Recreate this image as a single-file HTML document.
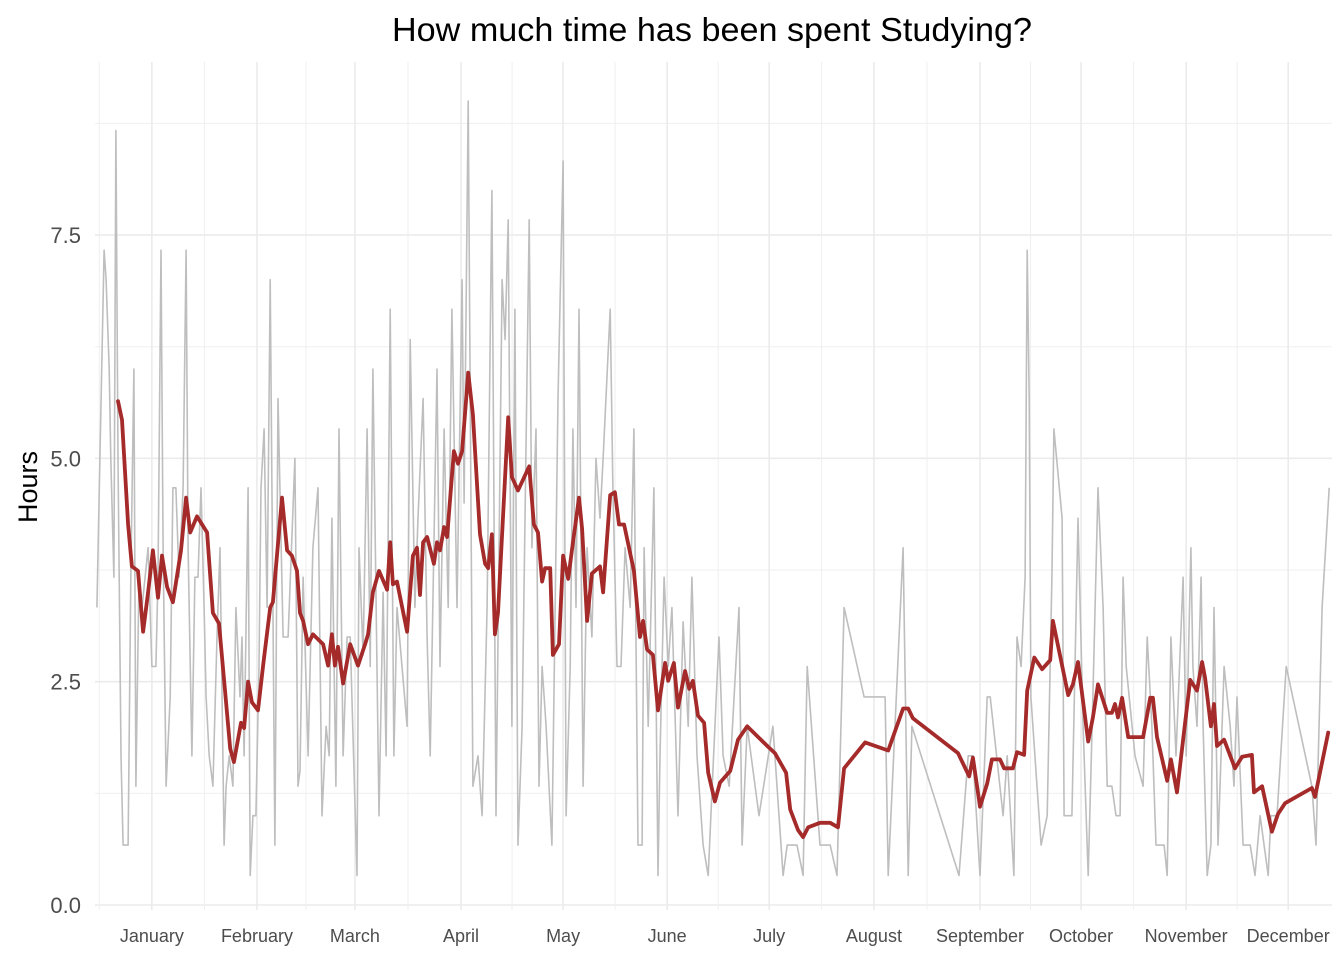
<!DOCTYPE html>
<html><head><meta charset="utf-8"><style>
html,body{margin:0;padding:0;background:#fff;}
svg{display:block;font-family:"Liberation Sans",Arial,sans-serif;}
</style></head><body>
<svg id="chart" width="1344" height="960" viewBox="0 0 1344 960" xmlns="http://www.w3.org/2000/svg">
<rect width="1344" height="960" fill="#fff"/>
<g id="grid"></g>
<g id="series"></g>
<g id="axes"></g>
<text x="712" y="41" text-anchor="middle" font-size="33" fill="#000" textLength="640" lengthAdjust="spacingAndGlyphs">How much time has been spent Studying?</text>
<text transform="translate(37,487) rotate(-90)" text-anchor="middle" font-size="27" fill="#000">Hours</text>
</svg>
<script>
const monthLabels = ["January","February","March","April","May","June","July","August","September","October","November","December"];
const monthDays = [15.3,46.3,75.2,106.5,136.6,167.3,197.4,228.3,259.6,289.4,320.4,350.5];
const yTicks = [0,2.5,5,7.5];
const yTickLabels = ["0.0","2.5","5.0","7.5"];
const dailyDays = [-0.9,1.2,1.8,2.7,3.2,4.1,4.7,5.3,6.2,6.8,8.3,9.1,10.0,10.6,11.5,12.4,13.3,14.2,15.3,16.5,17.1,18.0,18.6,19.5,20.7,21.5,22.4,23.3,24.5,25.4,26.0,27.1,28.0,28.9,29.8,30.7,31.3,32.2,33.3,34.5,35.4,36.6,37.2,38.1,39.2,40.1,41.3,41.9,42.5,43.7,44.3,45.1,46.0,46.9,47.5,48.4,49.3,50.2,51.6,52.5,54.0,55.5,57.5,58.4,59.0,59.9,61.4,62.8,64.3,65.5,66.7,67.6,68.4,69.6,70.5,71.7,72.9,73.8,75.8,76.4,77.6,78.8,79.7,80.5,82.3,83.5,84.4,85.6,86.7,87.6,89.1,90.6,91.5,92.9,93.8,95.3,96.5,97.4,99.4,100.3,101.5,102.7,103.8,105.3,106.8,107.4,108.6,110.0,111.5,112.7,114.2,115.6,116.8,118.6,119.5,120.4,121.5,122.4,123.3,124.5,126.6,127.4,128.6,129.5,130.4,131.6,133.3,135.1,136.6,137.5,138.7,139.5,140.4,141.3,142.5,143.7,145.1,146.3,147.5,148.4,150.5,151.3,152.5,153.7,154.9,156.4,157.5,158.7,159.9,160.5,161.7,163.4,164.6,165.2,166.4,167.6,168.7,170.5,172.0,173.5,174.6,176.1,177.9,179.4,180.8,182.6,183.8,185.6,188.5,189.4,190.9,194.4,198.5,201.5,202.7,205.6,207.4,208.6,212.4,215.4,217.4,219.5,225.4,231.6,232.5,236.9,238.4,239.5,253.4,256.1,257.5,259.6,261.7,262.6,266.4,267.6,269.6,270.5,271.7,272.9,273.5,274.1,274.6,276.4,277.6,279.4,280.8,281.4,283.8,284.4,286.7,287.6,288.5,290.0,291.5,292.9,294.4,295.9,297.1,298.5,299.7,300.9,301.8,302.7,305.3,307.7,308.9,310.3,311.5,313.9,314.8,315.9,317.4,319.5,320.4,321.8,322.4,323.6,324.8,325.4,326.6,327.7,328.6,329.8,331.6,333.4,334.5,335.4,337.2,339.3,340.7,342.2,344.6,345.4,347.2,349.9,357.5,358.7,360.5,362.6];
const dailyHours = [3.33,7.33,7.0,6.0,5.0,3.67,8.67,5.0,1.67,0.67,0.67,3.67,6.0,1.33,3.67,3.33,3.67,4.0,2.67,2.67,3.67,7.33,4.0,1.33,2.33,4.67,4.67,3.67,4.67,7.33,4.0,1.67,3.67,3.67,4.67,3.33,2.33,1.67,1.33,3.0,4.0,0.67,1.33,1.67,1.33,3.33,2.33,3.0,1.67,4.67,0.33,1.0,1.0,2.67,4.67,5.33,3.33,7.0,0.67,5.67,3.0,3.0,5.0,1.33,1.5,3.67,1.67,4.0,4.67,1.0,2.0,1.67,4.33,1.33,5.33,1.67,3.0,3.0,0.33,4.0,2.8,5.33,2.67,6.0,1.0,3.5,1.67,6.67,1.67,3.33,2.67,2.0,6.33,3.33,4.33,5.67,3.0,1.67,6.0,2.67,5.33,3.33,6.67,3.33,7.0,4.5,9.0,1.33,1.67,1.0,3.33,8.0,1.0,7.0,6.33,7.67,2.0,6.67,0.67,2.0,7.67,4.0,5.33,1.33,2.67,2.0,0.67,5.67,8.33,1.0,2.67,5.33,3.33,6.67,1.33,4.0,3.0,5.0,4.33,5.0,6.67,4.67,2.67,2.67,4.0,3.33,5.33,0.67,0.67,4.0,2.0,4.67,0.33,1.67,3.67,2.67,3.33,1.0,3.17,2.0,3.67,1.67,0.67,0.33,1.5,3.0,1.67,1.33,3.33,0.67,2.0,1.0,2.0,0.33,0.67,0.67,0.33,2.67,0.67,0.67,0.33,3.33,2.33,2.33,0.33,4.0,0.33,2.0,0.33,1.67,1.67,0.33,2.33,2.33,1.0,1.67,0.33,3.0,2.67,3.67,7.33,5.67,2.33,1.33,0.67,1.0,3.67,5.33,4.33,1.0,1.0,2.67,4.33,2.0,0.33,2.33,4.67,3.33,1.33,1.33,1.0,1.0,3.67,2.67,1.67,1.33,3.0,2.0,0.67,0.67,0.33,3.0,1.67,3.67,1.67,4.0,2.67,2.0,3.67,2.0,0.33,0.67,3.33,0.67,2.67,2.0,1.33,2.33,0.67,0.67,0.33,1.0,0.33,1.0,1.0,2.67,1.33,0.67,3.33,4.67];
const smoothDays = [5.3,6.5,8.3,9.4,11.2,12.7,14.2,15.6,17.1,18.3,19.8,21.5,23.9,25.4,26.6,28.6,31.6,33.3,35.1,36.9,38.4,39.5,41.6,42.5,43.7,44.8,46.6,48.1,50.2,51.0,53.7,55.2,56.6,58.1,59.0,59.9,61.4,62.8,65.8,67.3,68.4,69.3,70.2,71.7,73.8,76.1,78.2,79.1,80.5,82.3,84.7,85.6,86.4,87.6,90.6,92.3,93.5,94.4,95.3,96.5,98.5,99.4,100.3,101.5,102.4,104.4,105.6,106.8,108.6,110.0,112.1,113.6,114.5,115.6,116.5,117.4,120.4,121.5,123.3,126.6,128.0,129.2,130.4,131.3,132.8,133.6,135.4,136.6,138.1,139.2,141.3,142.2,143.7,145.1,147.5,148.4,150.5,151.9,153.1,154.6,157.5,159.3,160.2,161.4,163.1,164.6,166.7,167.6,169.3,170.5,172.6,173.8,174.9,176.4,178.2,179.4,181.4,182.9,185.9,188.2,190.9,197.1,199.1,202.4,203.6,205.9,207.4,208.9,212.4,215.4,217.7,219.5,225.7,232.5,236.9,238.4,239.8,253.1,256.4,257.5,259.6,261.7,263.1,265.5,266.7,269.3,270.5,272.6,273.5,275.6,277.9,280.3,281.1,285.6,287.0,288.5,291.5,292.9,294.4,297.1,298.5,299.4,300.3,301.5,303.3,307.7,309.8,310.6,311.8,314.8,315.9,317.7,319.5,321.6,323.6,325.1,326.0,327.7,328.6,329.5,331.6,334.8,336.9,339.8,340.4,342.8,345.7,347.5,349.6,357.5,358.4,362.3];
const smoothHours = [5.64,5.43,4.26,3.79,3.74,3.06,3.5,3.97,3.44,3.91,3.56,3.39,3.97,4.56,4.17,4.35,4.17,3.27,3.15,2.39,1.75,1.6,2.04,1.98,2.5,2.27,2.18,2.68,3.33,3.39,4.56,3.97,3.91,3.74,3.27,3.18,2.92,3.03,2.92,2.68,3.03,2.68,2.89,2.48,2.92,2.68,2.92,3.03,3.5,3.74,3.53,4.06,3.59,3.62,3.06,3.91,4.0,3.47,4.06,4.12,3.82,4.06,3.97,4.23,4.12,5.08,4.94,5.08,5.96,5.49,4.15,3.82,3.77,4.15,3.03,3.27,5.46,4.79,4.64,4.91,4.26,4.17,3.62,3.77,3.77,2.8,2.92,3.91,3.65,3.97,4.56,4.21,3.18,3.71,3.79,3.5,4.59,4.62,4.26,4.26,3.74,3.0,3.18,2.86,2.8,2.18,2.71,2.51,2.71,2.21,2.62,2.42,2.51,2.12,2.04,1.48,1.16,1.37,1.5,1.85,2.0,1.77,1.7,1.48,1.07,0.84,0.76,0.87,0.92,0.92,0.87,1.53,1.82,1.73,2.2,2.2,2.09,1.7,1.44,1.65,1.1,1.36,1.63,1.63,1.53,1.53,1.71,1.68,2.4,2.77,2.64,2.74,3.18,2.35,2.47,2.72,1.83,2.1,2.47,2.15,2.15,2.25,2.1,2.32,1.88,1.88,2.32,2.32,1.88,1.39,1.63,1.26,1.85,2.52,2.4,2.72,2.54,2.0,2.25,1.78,1.85,1.53,1.66,1.68,1.26,1.33,0.82,1.02,1.14,1.31,1.21,1.93];

const NS = "http://www.w3.org/2000/svg";
const X0 = 100, PXD = 3.39, Y0 = 905, PXH = 89.33;
const PL = 95, PR = 1332, PT = 62, PB = 910;
function xs(d){ return X0 + d * PXD; }
function ys(h){ return Y0 - h * PXH; }
function mk(tag, attrs, parent){ const e = document.createElementNS(NS, tag); for (const k in attrs) e.setAttribute(k, attrs[k]); parent.appendChild(e); return e; }

const grid = document.getElementById('grid');
const series = document.getElementById('series');
const axes = document.getElementById('axes');

// horizontal minor gridlines
for (let i = 0; i < yTicks.length; i++) {
  const v = yTicks[i] + 1.25;
  const l = mk('line', {x1: PL, x2: PR, y1: ys(v), y2: ys(v), stroke: '#efefef', 'stroke-width': 1}, grid);
  
  
}
// horizontal major gridlines + labels
for (let i = 0; i < yTicks.length; i++) {
  const y = ys(yTicks[i]);
  const l = mk('line', {x1: PL, x2: PR, y1: y, y2: y, stroke: '#ebebeb', 'stroke-width': 1.6}, grid);
  
  
  const t = mk('text', {x: 81, y: y + 8, 'text-anchor': 'end', 'font-size': 22, fill: '#4d4d4d'}, axes);
  t.textContent = yTickLabels[i];
  
  
}
// vertical minor gridlines (midpoints)
const minors = [];
for (let i = 0; i < monthDays.length; i++) {
  if (i === 0) minors.push(monthDays[0] - (monthDays[1] - monthDays[0]) / 2);
  if (i < monthDays.length - 1) minors.push((monthDays[i] + monthDays[i + 1]) / 2);
}
minors.forEach(function(d){
  const l = mk('line', {x1: xs(d), x2: xs(d), y1: PT, y2: PB, stroke: '#efefef', 'stroke-width': 1}, grid);
  
  
});
// vertical major gridlines + labels
for (let i = 0; i < monthDays.length; i++) {
  const x = xs(monthDays[i]);
  const l = mk('line', {x1: x, x2: x, y1: PT, y2: PB, stroke: '#ebebeb', 'stroke-width': 1.6}, grid);
  
  
  const t = mk('text', {x: x, y: 942, 'text-anchor': 'middle', 'font-size': 18, fill: '#4d4d4d'}, axes);
  t.textContent = monthLabels[i];
  
  
}

// daily grey line
let dp = '';
for (let i = 0; i < dailyDays.length; i++) dp += (i ? 'L' : 'M') + xs(dailyDays[i]).toFixed(1) + ',' + ys(dailyHours[i]).toFixed(1);
const g = mk('path', {d: dp, fill: 'none', stroke: '#bebebe', 'stroke-width': 1.6, 'stroke-linejoin': 'round'}, series);



// smoothed red line
let sp = '';
for (let i = 0; i < smoothDays.length; i++) sp += (i ? 'L' : 'M') + xs(smoothDays[i]).toFixed(1) + ',' + ys(smoothHours[i]).toFixed(1);
const r = mk('path', {d: sp, fill: 'none', stroke: '#a52a2a', 'stroke-width': 3.8, 'stroke-linejoin': 'round', 'stroke-linecap': 'round'}, series);


</script>
</body></html>
